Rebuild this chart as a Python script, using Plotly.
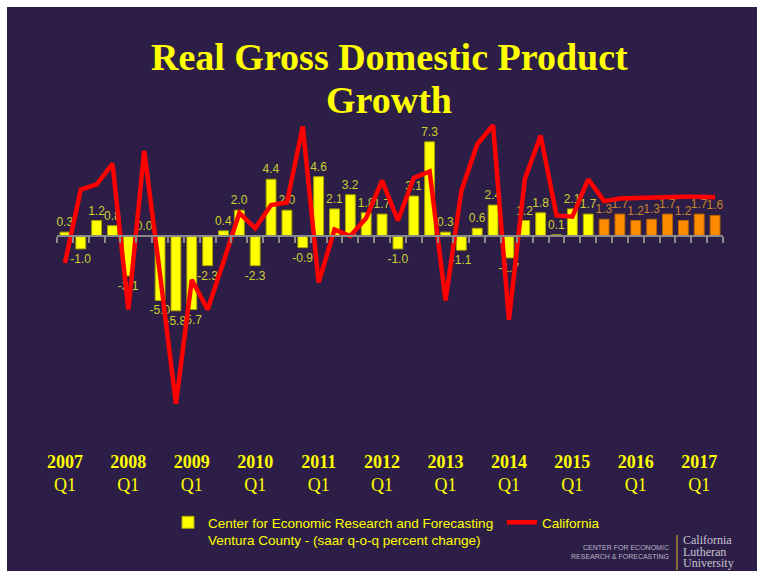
import plotly.graph_objects as go

years = ["2007", "2008", "2009", "2010", "2011", "2012", "2013", "2014", "2015", "2016", "2017"]
quarters = [f"{y} Q{q}" for y in years for q in range(1, 5)][:42]

ventura = [0.3, -1.0, 1.2, 0.8,
           -3.1, 0.0, -5.0, -5.8,
           -5.7, -2.3, 0.4, 2.0,
           -2.3, 4.4, 2.0, -0.9,
           4.6, 2.1, 3.2, 1.8,
           1.7, -1.0, 3.1, 7.3,
           0.3, -1.1, 0.6, 2.4,
           -1.7, 1.2, 1.8, 0.1,
           2.1, 1.7, 1.3, 1.7,
           1.2, 1.3, 1.7, 1.2,
           1.7, 1.6]
forecast_from = 34  # index of first forecast quarter (2015 Q3)

california = [-2.1, 3.6, 4.0, 5.6,
              -5.7, 6.6, -3.0, -13.0,
              -3.4, -5.7, -2.0, 1.8,
              0.6, 2.4, 2.6, 8.5,
              -3.6, 0.5, 0.0, 1.4,
              4.3, 1.2, 4.5, 5.0,
              -5.0, 3.5, 7.1, 8.6,
              -6.5, 4.4, 7.8, 1.6,
              1.5, 4.4, 2.7, 2.9,
              2.95, 3.0, 3.05, 3.05,
              3.05, 3.0]

tick_labels = [f"<b>{y}</b><br>Q1" for y in years]
title_lines = ["Real Gross Domestic Product", "Growth"]
logo_small = ["CENTER FOR ECONOMIC", "RESEARCH &amp; FORECASTING"]
logo_big = ["California", "Lutheran", "University"]

BG = "#2D1E47"
YEL = "#FFFF00"
ORG = "#FF8C00"

# layout geometry (pixels)
W, H = 761, 575
L, R, T, B = 57, 723, 118, 443
ymin, ymax = -16.05, 9.15
n = len(ventura)
xs = list(range(n))

def px(x):
    return (x - L) / (R - L)

def py(y):
    return (B - y) / (B - T)

bar_colors = [YEL if i < forecast_from else ORG for i in xs]
bar_lines = ["#A8A400" if i < forecast_from else "#B86400" for i in xs]
label_colors = ["#CDD030" if i < forecast_from else "#C8842A" for i in xs]

fig = go.Figure()
fig.add_trace(go.Bar(
    x=xs, y=ventura, width=0.62,
    marker=dict(color=bar_colors, line=dict(color=bar_lines, width=1)),
    text=[f"{v:.1f}" for v in ventura], textposition="outside",
    textfont=dict(family="Liberation Sans", size=12, color=label_colors),
    cliponaxis=False, constraintext="none",
    name="Center for Economic Research and Forecasting&nbsp;<br>Ventura County - (saar q-o-q percent change)",
))
fig.add_trace(go.Scatter(
    x=xs, y=california, mode="lines",
    line=dict(color="#FF0000", width=4.5),
    cliponaxis=False, name="California",
))
# invisible trace for the zero-axis with boundary ticks
fig.add_trace(go.Scatter(x=[-0.5, n - 0.5], y=[0, 0], xaxis="x2", mode="lines",
                         line=dict(width=0), showlegend=False, hoverinfo="skip"))

zero_pos = (0 - ymin) / (ymax - ymin)

annotations = []
for i, t in enumerate(title_lines):
    annotations.append(dict(text=f"<b>{t}</b>", xref="paper", yref="paper",
                            x=px(389), y=py(57 + 43 * i), xanchor="center", yanchor="middle",
                            showarrow=False,
                            font=dict(family="Liberation Serif", size=38, color=YEL)))
for i, t in enumerate(logo_small):
    annotations.append(dict(text=t, xref="paper", yref="paper",
                            x=px(671), y=py(547 + 9.5 * i), xanchor="right", yanchor="middle",
                            showarrow=False,
                            font=dict(family="Liberation Sans", size=7, color="#B8B4C4")))
for i, t in enumerate(logo_big):
    annotations.append(dict(text=t, xref="paper", yref="paper",
                            x=px(681), y=py(540 + 11.5 * i), xanchor="left", yanchor="middle",
                            showarrow=False,
                            font=dict(family="Liberation Serif", size=12, color="#C8C4D4")))

fig.update_layout(
    width=W, height=H,
    margin=dict(l=L, r=W - R, t=T, b=H - B, autoexpand=False),
    paper_bgcolor="white", plot_bgcolor="rgba(0,0,0,0)",
    showlegend=True,
    xaxis=dict(range=[-0.5, n - 0.5], tickvals=list(range(0, n, 4)), ticktext=tick_labels,
               showgrid=False, zeroline=False, showline=False, ticks="", automargin=False,
               ticklabelstandoff=6,
               tickfont=dict(family="Liberation Serif", size=18, color=YEL)),
    xaxis2=dict(range=[-0.5, n - 0.5], overlaying="x", anchor="free", position=zero_pos,
                tickvals=[i - 0.5 for i in range(n + 1)], ticks="outside", ticklen=6,
                tickwidth=1.5, tickcolor="#8A8A8A", showline=True, linecolor="#8A8A8A",
                linewidth=2, showticklabels=False, showgrid=False, zeroline=False),
    yaxis=dict(range=[ymin, ymax], visible=False, showgrid=False, zeroline=False),
    bargap=0.38,
    legend=dict(orientation="h", x=px(168), y=py(507), xanchor="left", yanchor="top",
                bgcolor="rgba(0,0,0,0)", valign="top", itemwidth=30,
                font=dict(family="Liberation Sans", size=13.5, color=YEL)),
    shapes=[
        dict(type="rect", xref="paper", yref="paper", layer="below",
             x0=px(7), x1=px(757), y0=py(571), y1=py(7),
             fillcolor=BG, line=dict(width=0)),
        dict(type="line", xref="paper", yref="paper",
             x0=px(677), x1=px(677), y0=py(535), y1=py(570),
             line=dict(color="#A88A3A", width=1.5)),
    ],
    annotations=annotations,
)

fig.write_html("out.html", config={"displayModeBar": False},
               post_script="document.body.style.margin='0';document.body.style.padding='0';")
